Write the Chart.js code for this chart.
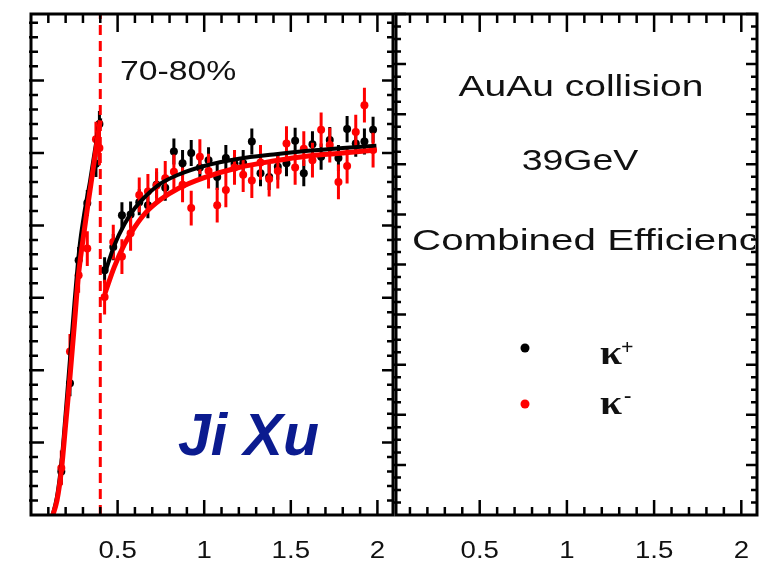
<!DOCTYPE html>
<html>
<head>
<meta charset="utf-8">
<script src="https://cdn.jsdelivr.net/npm/chart.js@4"></script>
<style>
  body { margin: 0; background: #fff; width: 771px; height: 562px; overflow: hidden; position: relative; }
  canvas { position: absolute; top: 0; }
  #eff { left: 0; }
  #legend-pad { left: 393px; }
</style>
</head>
<body>
<canvas id="eff" width="397" height="562"></canvas>
<canvas id="legend-pad" width="378" height="562"></canvas>
<script>
// pT bin centres (GeV/c), both kaon species share them
const ptX = [0.175, 0.225, 0.275, 0.325, 0.375, 0.395,
  0.425, 0.475, 0.525, 0.575, 0.625, 0.675, 0.725, 0.775, 0.825, 0.875, 0.925, 0.975,
  1.025, 1.075, 1.125, 1.175, 1.225, 1.275, 1.325, 1.375, 1.425, 1.475, 1.525, 1.575,
  1.625, 1.675, 1.725, 1.775, 1.825, 1.875, 1.925, 1.975];

const kPlus = [0.06, 0.182, 0.352, 0.431, 0.485, 0.54,
  0.338, 0.37, 0.414, 0.415, 0.432, 0.428, 0.456, 0.452, 0.502, 0.486, 0.5, 0.48,
  0.49, 0.467, 0.493, 0.485, 0.486, 0.516, 0.472, 0.467, 0.481, 0.486, 0.517, 0.472,
  0.512, 0.495, 0.518, 0.493, 0.533, 0.513, 0.516, 0.532];

const kMinus = [0.065, 0.226, 0.331, 0.368, 0.519, 0.507,
  0.301, 0.377, 0.357, 0.389, 0.442, 0.447, 0.455, 0.465, 0.474, 0.456, 0.424, 0.495,
  0.475, 0.428, 0.449, 0.48, 0.47, 0.462, 0.487, 0.464, 0.475, 0.513, 0.48, 0.506,
  0.49, 0.532, 0.511, 0.46, 0.482, 0.529, 0.566, 0.504];

const kPlusErr = 0.018;
const kMinusErr = 0.024;

// fit curves, below and above the TPC/TOF switch
const fitPlusLow = [[0.119, -0.005], [0.15, 0.025], [0.177, 0.075], [0.2, 0.14], [0.225, 0.215],
  [0.25, 0.29], [0.28, 0.37], [0.31, 0.42], [0.34, 0.46], [0.37, 0.505], [0.4, 0.548]];
const fitPlusHigh = [[0.427, 0.334], [0.48, 0.372], [0.54, 0.402], [0.6, 0.424], [0.66, 0.44],
  [0.75, 0.458], [0.85, 0.47], [1.0, 0.482], [1.2, 0.492], [1.4, 0.498], [1.6, 0.503],
  [1.8, 0.507], [1.994, 0.51]];
const fitMinusLow = [[0.119, -0.005], [0.15, 0.02], [0.177, 0.065], [0.2, 0.125], [0.225, 0.191],
  [0.25, 0.262], [0.273, 0.329], [0.3, 0.38], [0.33, 0.431], [0.36, 0.48], [0.388, 0.527], [0.4, 0.545]];
const fitMinusHigh = [[0.427, 0.306], [0.48, 0.342], [0.54, 0.374], [0.6, 0.398], [0.66, 0.417],
  [0.75, 0.436], [0.85, 0.451], [1.0, 0.466], [1.2, 0.48], [1.4, 0.489], [1.6, 0.496],
  [1.8, 0.5], [1.994, 0.504]];

const pidCut = 0.4;

const xTickValues = [0.5, 1, 1.5, 2];
const xTickLabels = ['0.5', '1', '1.5', '2'];

const FONT = '"Liberation Sans", Arial, Helvetica, sans-serif';
const SERIF = '"Liberation Serif", "Times New Roman", serif';

function to_points(xs, ys) {
  return xs.map((x, i) => ({ x: x, y: ys[i] }));
}

function to_xy(pairs) {
  return pairs.map(p => ({ x: p[0], y: p[1] }));
}

// helvetica in the original output is wider than Liberation Sans, so stretch it
function put_text(ctx, str, x, y, font, sx, align, color) {
  ctx.save();
  ctx.translate(x, y);
  ctx.scale(sx, 1);
  ctx.font = font;
  ctx.textAlign = align;
  ctx.textBaseline = 'alphabetic';
  ctx.fillStyle = color;
  ctx.fillText(str, 0, 0);
  ctx.restore();
}

// ROOT style frame: ticks inside on all four sides, labels under the bottom axis
function draw_axes(chart, o) {
  const ctx = chart.ctx, a = chart.chartArea;
  const xs = chart.scales.x, ys = chart.scales.y;
  ctx.save();
  ctx.strokeStyle = '#000';
  ctx.lineWidth = 2.5;
  ctx.beginPath();
  for (let i = Math.ceil(xs.min * 10); i <= Math.floor(xs.max * 10); i++) {
    if (i === 0) continue;
    const px = xs.getPixelForValue(i / 10);
    const major = i % 5 === 0;
    ctx.moveTo(px, a.bottom);
    ctx.lineTo(px, a.bottom - (major ? o.bottomTick[0] : o.bottomTick[1]));
    ctx.moveTo(px, a.top);
    ctx.lineTo(px, a.top + (major ? o.topTick[0] : o.topTick[1]));
  }
  const step = 0.1 / o.ySub;
  for (let i = 1; i * step <= ys.max + 1e-9; i++) {
    const py = ys.getPixelForValue(i * step);
    const major = i % o.ySub === 0;
    ctx.moveTo(a.left - 2, py);
    ctx.lineTo(a.left + (major ? o.leftTick[0] : o.leftTick[1]), py);
    ctx.moveTo(a.right, py);
    ctx.lineTo(a.right - (major ? o.rightTick[0] : o.rightTick[1]), py);
  }
  ctx.stroke();
  ctx.lineWidth = 3;
  ctx.strokeRect(a.left, a.top, a.right - a.left, a.bottom - a.top);
  ctx.restore();

  xTickValues.forEach((v, i) => {
    put_text(ctx, xTickLabels[i], xs.getPixelForValue(v), a.bottom + 43, '23px ' + FONT, 1.2, 'center', '#111');
  });
}

const error_bars = {
  id: 'error_bars',
  beforeDatasetDraw(chart, args) {
    const ds = chart.data.datasets[args.index];
    if (!ds.yErr) return;
    const ctx = chart.ctx, a = chart.chartArea;
    const xs = chart.scales.x, ys = chart.scales.y;
    ctx.save();
    ctx.beginPath();
    ctx.rect(a.left, a.top, a.right - a.left, a.bottom - a.top);
    ctx.clip();
    ctx.strokeStyle = ds.borderColor;
    ctx.lineWidth = 3;
    ctx.beginPath();
    ds.data.forEach(p => {
      const px = xs.getPixelForValue(p.x);
      ctx.moveTo(px, ys.getPixelForValue(p.y - ds.yErr));
      ctx.lineTo(px, ys.getPixelForValue(p.y + ds.yErr));
    });
    ctx.stroke();
    ctx.restore();
  }
};

const eff_frame = {
  id: 'eff_frame',
  afterDraw(chart) {
    draw_axes(chart, { ySub: 5, topTick: [18, 9], bottomTick: [15, 8], leftTick: [13, 7], rightTick: [11, 6] });
    put_text(chart.ctx, '70-80%', 120, 80, '27px ' + FONT, 1.25, 'left', '#111');
    put_text(chart.ctx, 'Ji Xu', 178, 455, 'italic bold 59px ' + FONT, 1, 'left', '#0b1b8f');
  }
};

const pad_frame = {
  id: 'pad_frame',
  afterDraw(chart) {
    const ctx = chart.ctx, a = chart.chartArea;
    draw_axes(chart, { ySub: 4, topTick: [18, 9], bottomTick: [15, 8], leftTick: [10, 5], rightTick: [11, 6] });
    ctx.save();
    ctx.beginPath();
    ctx.rect(a.left, a.top, a.right - a.left - 2, a.bottom - a.top);
    ctx.clip();
    put_text(ctx, 'AuAu collision', 188, 96, '30px ' + FONT, 1.3, 'center', '#111');
    put_text(ctx, '39GeV', 187, 170, '30px ' + FONT, 1.25, 'center', '#111');
    put_text(ctx, 'Combined Efficiency', 19, 250, '30px ' + FONT, 1.345, 'left', '#111');
    ctx.restore();

    // marker legend
    ctx.fillStyle = '#000';
    ctx.beginPath(); ctx.arc(132, 348, 4.5, 0, Math.PI * 2); ctx.fill();
    ctx.fillStyle = '#ff0000';
    ctx.beginPath(); ctx.arc(132, 404, 4.5, 0, Math.PI * 2); ctx.fill();
    put_text(ctx, 'κ', 207, 364, 'bold 33px ' + SERIF, 1.2, 'left', '#111');
    put_text(ctx, '+', 228, 354, 'bold 22px ' + SERIF, 1, 'left', '#111');
    put_text(ctx, 'κ', 207, 414, 'bold 33px ' + SERIF, 1.2, 'left', '#111');
    put_text(ctx, '-', 231, 402, 'bold 22px ' + SERIF, 1, 'left', '#111');
  }
};

function fit_line(data, color, width, order) {
  return {
    type: 'line',
    data: to_xy(data),
    borderColor: color,
    borderWidth: width,
    pointRadius: 0,
    fill: false,
    cubicInterpolationMode: 'monotone',
    order: order
  };
}

const base_options = (pad, xmin, xmax, ymax) => ({
  responsive: false,
  animation: false,
  devicePixelRatio: 1,
  events: [],
  layout: { padding: pad },
  plugins: { legend: { display: false }, tooltip: { enabled: false } },
  scales: {
    x: { type: 'linear', min: xmin, max: xmax, display: false },
    y: { type: 'linear', min: 0, max: ymax, display: false }
  }
});

new Chart(document.getElementById('eff'), {
  type: 'scatter',
  data: {
    datasets: [
      {
        type: 'line',
        data: [{ x: pidCut, y: 0 }, { x: pidCut, y: 0.7 }],
        borderColor: '#ff0000',
        borderWidth: 3,
        borderDash: [10, 6],
        pointRadius: 0,
        order: 0
      },
      fit_line(fitMinusLow, '#ff0000', 5, 1),
      fit_line(fitMinusHigh, '#ff0000', 5, 1),
      fit_line(fitPlusLow, '#000000', 4, 2),
      fit_line(fitPlusHigh, '#000000', 4, 2),
      {
        label: 'K-',
        data: to_points(ptX, kMinus),
        yErr: kMinusErr,
        backgroundColor: '#ff0000',
        borderColor: '#ff0000',
        pointRadius: 4,
        borderWidth: 0,
        order: 3
      },
      {
        label: 'K+',
        data: to_points(ptX, kPlus),
        yErr: kPlusErr,
        backgroundColor: '#000000',
        borderColor: '#000000',
        pointRadius: 4,
        borderWidth: 0,
        order: 4
      }
    ]
  },
  options: base_options({ left: 31, top: 14, right: 3, bottom: 47 }, 0, 2.09, 0.692),
  plugins: [error_bars, eff_frame]
});

new Chart(document.getElementById('legend-pad'), {
  type: 'scatter',
  data: { datasets: [] },
  options: base_options({ left: 3, top: 14, right: 14, bottom: 47 }, 0.02, 2.09, 1.0),
  plugins: [pad_frame]
});
</script>
</body>
</html>
